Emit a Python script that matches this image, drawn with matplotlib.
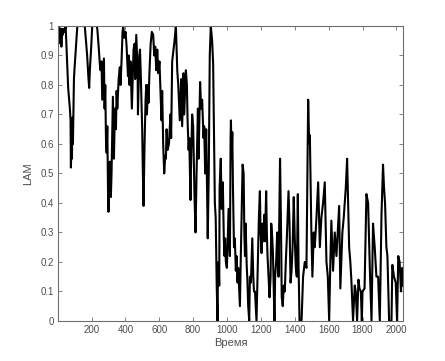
import matplotlib
matplotlib.use("Agg")
import matplotlib.pyplot as plt

# LAM values (time step, LAM)
time_pts = [1, 5, 9, 13, 17, 22, 27, 30, 35, 40, 47,
            58, 62, 68, 72, 76, 78, 82, 84, 88, 90, 96, 100, 108, 116,
            160, 174, 182, 186, 190, 198, 204, 230, 234,
            242, 249, 253, 259, 263, 273, 277, 281, 285, 289, 293, 298, 300, 308, 314, 318,
            326, 332, 338, 344, 348, 352, 360, 367, 371, 377, 383, 387, 393, 401, 407, 415,
            420, 424, 430, 438, 448, 454, 458, 464, 472, 474, 482, 486, 490, 499, 503, 507,
            513, 519, 523, 527, 533, 537, 541, 549, 556, 564, 570, 576, 582, 588, 594, 601,
            609, 613, 617, 623, 629, 635, 639, 643, 649, 657, 666, 670, 676, 684, 690, 698,
            706, 712, 721, 729, 735, 743, 747, 757, 763, 767, 773, 777, 784, 788, 794, 800,
            808, 814, 820, 828, 832, 841, 847, 853, 861, 865, 871, 877, 883, 886, 892, 898,
            904, 912, 918, 924, 928, 933, 939, 944, 946, 950, 954, 956, 963, 968, 975, 981,
            985, 989, 993, 999, 1003, 1009, 1013, 1017, 1021, 1023, 1027, 1031, 1035, 1041,
            1046, 1052, 1056, 1062, 1066, 1076, 1080, 1086, 1092, 1098, 1102, 1106, 1110,
            1116, 1120, 1125, 1131, 1135, 1141, 1149, 1155, 1159, 1165, 1174, 1178, 1184,
            1188, 1194, 1198, 1204, 1210, 1214, 1220, 1224, 1231, 1235, 1239, 1245, 1251,
            1257, 1261, 1267, 1271, 1280, 1284, 1290, 1296, 1300, 1304, 1313, 1318, 1323,
            1329, 1335, 1341, 1347, 1353, 1363, 1369, 1375, 1381, 1387, 1394, 1400, 1406,
            1412, 1418, 1422, 1428, 1436,
            1440, 1449, 1459, 1469, 1479, 1485, 1489, 1498, 1504, 1512, 1518, 1528, 1538,
            1548, 1557, 1567, 1577, 1587, 1595, 1603, 1610, 1616, 1626, 1636, 1646, 1662,
            1669, 1681, 1689, 1701, 1709, 1721, 1728, 1734, 1744, 1754, 1760, 1768, 1776,
            1782, 1790, 1796, 1800, 1812, 1823, 1833, 1843, 1853, 1862, 1872, 1882, 1892,
            1902, 1912, 1921, 1927, 1933, 1941, 1947, 1957, 1971, 1976, 1986, 1996, 2004,
            2011, 2019, 2027, 2035, 2037]
lam = [1.0, 0.94, 1.0, 0.97, 0.99, 0.93, 0.99, 0.97, 0.99, 0.98, 1.0,
       0.85, 0.79, 0.75, 0.72, 0.68, 0.52, 0.6, 0.55, 0.69, 0.6, 0.82, 0.86, 0.93, 1.0,
       1.0, 0.9, 0.82, 0.79, 0.85, 0.93, 1.0, 1.0, 0.99,
       0.93, 0.87, 0.85, 0.88, 0.75, 0.89, 0.72, 0.8, 0.62, 0.57, 0.66, 0.4, 0.37, 0.54, 0.42, 0.5,
       0.76, 0.55, 0.72, 0.65, 0.78, 0.72, 0.82, 0.86, 0.8, 0.88, 0.98, 1.0, 0.96, 0.98, 0.93, 0.83,
       0.9, 0.8, 0.88, 0.72, 0.92, 0.94, 0.82, 0.97, 0.85, 0.7, 0.9, 0.92, 0.85, 0.65, 0.5, 0.39,
       0.6, 0.75, 0.8, 0.7, 0.8, 0.74, 0.83, 0.94, 0.98, 0.97, 0.9, 0.93, 0.85, 0.92, 0.84, 0.88,
       0.75, 0.68, 0.78, 0.6, 0.5, 0.56, 0.55, 0.65, 0.58, 0.6, 0.7, 0.62, 0.88, 0.92, 0.95, 1.0,
       0.85, 0.8, 0.68, 0.82, 0.66, 0.84, 0.7, 0.85, 0.8, 0.68, 0.58, 0.62, 0.41, 0.55, 0.7, 0.66,
       0.42, 0.3, 0.5, 0.72, 0.55, 0.81, 0.72, 0.75, 0.62, 0.66, 0.5, 0.65, 0.4, 0.28, 0.5, 0.9,
       1.0, 0.95, 0.87, 0.6, 0.4, 0.35, 0.12, 0.0, 0.15, 0.2, 0.12, 0.45, 0.55, 0.38, 0.47, 0.28,
       0.22, 0.28, 0.2, 0.18, 0.25, 0.38, 0.3, 0.22, 0.62, 0.68, 0.55, 0.64, 0.45, 0.25,
       0.28, 0.17, 0.22, 0.13, 0.18, 0.05, 0.18, 0.35, 0.53, 0.5, 0.3, 0.22, 0.33,
       0.19, 0.14, 0.05, 0.0, 0.15, 0.13, 0.28, 0.15, 0.1, 0.1, 0.0, 0.1, 0.25,
       0.35, 0.44, 0.3, 0.23, 0.33, 0.27, 0.36, 0.27, 0.44, 0.3, 0.22, 0.15, 0.08,
       0.15, 0.33, 0.28, 0.23, 0.0, 0.15, 0.2, 0.3, 0.27, 0.15, 0.55, 0.35, 0.08,
       0.05, 0.12, 0.1, 0.2, 0.28, 0.44, 0.33, 0.13, 0.17, 0.25, 0.42, 0.28, 0.18,
       0.15, 0.43, 0.2, 0.0, 0.0,
       0.0, 0.15, 0.2, 0.18, 0.75, 0.6, 0.63, 0.3, 0.15, 0.3, 0.25, 0.35, 0.47,
       0.25, 0.35, 0.4, 0.47, 0.2, 0.15, 0.0, 0.2, 0.34, 0.17, 0.3, 0.22, 0.39,
       0.11, 0.3, 0.35, 0.45, 0.55, 0.25, 0.2, 0.14, 0.0, 0.12, 0.1, 0.0, 0.14,
       0.11, 0.1, 0.0, 0.1, 0.11, 0.43, 0.4, 0.18, 0.0, 0.33, 0.25, 0.15, 0.15,
       0.0, 0.36, 0.53, 0.45, 0.4, 0.25, 0.22, 0.0, 0.0, 0.19, 0.15, 0.13, 0.0,
       0.22, 0.2, 0.1, 0.18, 0.12]

x_ticks = [200, 400, 600, 800, 1000, 1200, 1400, 1600, 1800, 2000]
y_ticks = [0, 0.1, 0.2, 0.3, 0.4, 0.5, 0.6, 0.7, 0.8, 0.9, 1]
y_tick_labels = ["0", "0.1", "0.2", "0.3", "0.4", "0.5", "0.6", "0.7", "0.8", "0.9", "1"]

plt.rcParams['font.family'] = ['Liberation Sans', 'DejaVu Sans']

fig = plt.figure(figsize=(4.45, 3.61), dpi=100)
ax = fig.add_axes([0.130, 0.111, 0.776, 0.817])

ax.plot(time_pts, lam, color='black', linewidth=1.5)

ax.set_xlim(1, 2040)
ax.set_ylim(0, 1)
ax.set_xticks(x_ticks)
ax.set_xticklabels([str(t) for t in x_ticks])
ax.set_yticks(y_ticks)
ax.set_yticklabels(y_tick_labels)

gray = '#4d4d4d'
for s in ax.spines.values():
    s.set_color('#6e6e6e')
    s.set_linewidth(0.8)
ax.tick_params(direction='in', top=True, right=True, length=3, width=0.6,
               colors='#6e6e6e', labelcolor=gray, labelsize=7, pad=3)

ax.set_xlabel('Время', fontsize=8, color=gray, labelpad=2)
ax.set_ylabel('LAM', fontsize=8, color=gray, labelpad=5)

fig.savefig('out.png', dpi=100)
